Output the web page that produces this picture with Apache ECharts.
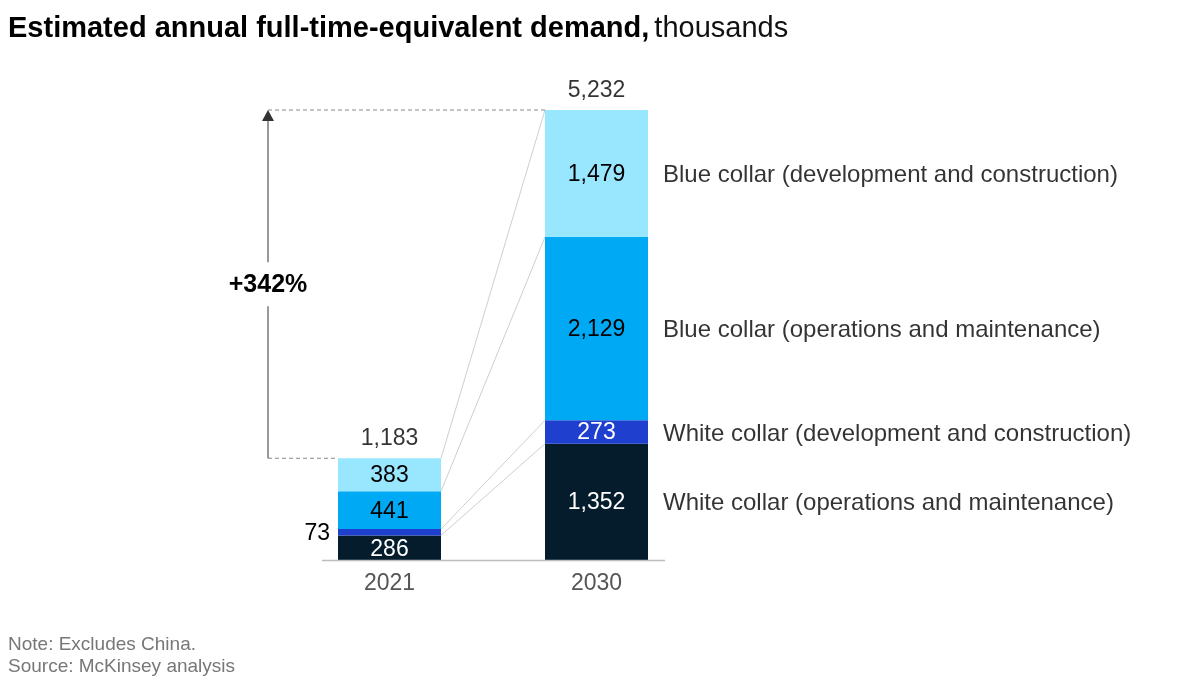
<!DOCTYPE html>
<html>
<head>
<meta charset="utf-8">
<script src="https://cdn.jsdelivr.net/npm/echarts@6/dist/echarts.min.js"></script>
<style>
html,body{margin:0;padding:0;background:#fff;}
#chart{width:1200px;height:679px;}
</style>
</head>
<body>
<div id="chart"></div>
<script>
// ---- data ----
var years = ['2021', '2030'];
var seriesNames = [
  'White collar (operations and maintenance)',
  'White collar (development and construction)',
  'Blue collar (operations and maintenance)',
  'Blue collar (development and construction)'
];
var whiteOM = [286, 1352];
var whiteDC = [73, 273];
var blueOM = [441, 2129];
var blueDC = [383, 1479];
var totals = [1183, 5232];

var colors = ['#051C2C', '#1F3FCF', '#00A9F4', '#99E6FF'];
var labelColors = ['#ffffff', '#ffffff', '#000000', '#000000'];
var FONT = '"Liberation Sans", Arial, sans-serif';
var BAR_W = 103;

var stacks = [whiteOM, whiteDC, blueOM, blueDC];

function fmt(v) { return Number(v).toLocaleString('en-US'); }
function cum(idx, upto) { var s = 0; for (var k = 0; k <= upto; k++) s += stacks[k][idx]; return s; }

var barSeries = stacks.map(function (arr, si) {
  return {
    name: seriesNames[si],
    type: 'bar',
    stack: 'total',
    barWidth: BAR_W,
    itemStyle: { color: colors[si] },
    label: {
      show: true,
      position: 'inside',
      fontFamily: FONT,
      fontSize: 23,
      color: labelColors[si],
      offset: [0, 1],
      formatter: function (p) { return fmt(p.value); }
    },
    data: arr.map(function (v, i) {
      var d = { value: v };
      if (si === 1 && i === 0) {
        d.label = { position: 'left', color: '#000', distance: 8, offset: [0, 1] };
      }
      if (si === 0 && i === 0) {
        d.label = { offset: [0, 2] };
      }
      return d;
    }),
    z: 3
  };
});

var totalSeries = {
  type: 'scatter',
  symbolSize: 0,
  silent: true,
  label: {
    show: true,
    position: 'top',
    distance: 8,
    fontFamily: FONT,
    fontSize: 23,
    color: '#000',
    formatter: function (p) { return fmt(p.value[1]); }
  },
  data: totals.map(function (t, i) { return [i, t]; }),
  z: 5
};

var sideSeries = {
  type: 'scatter',
  symbolSize: 0,
  silent: true,
  label: {
    show: true,
    position: 'right',
    distance: BAR_W / 2 + 15,
    offset: [0, 2],
    fontFamily: FONT,
    fontSize: 24,
    color: '#000',
    formatter: function (p) { return seriesNames[p.dataIndex]; }
  },
  data: stacks.map(function (arr, si) {
    return [1, cum(1, si) - arr[1] / 2];
  }),
  z: 5
};

var connectorData = [0, 1, 2, 3].map(function (si) { return [cum(0, si), cum(1, si)]; });
var connectorSeries = {
  type: 'custom',
  silent: true,
  renderItem: function (params, api) {
    var a = api.coord([0, api.value(0)]);
    var b = api.coord([1, api.value(1)]);
    return {
      type: 'line',
      shape: { x1: a[0] + BAR_W / 2, y1: a[1], x2: b[0] - BAR_W / 2, y2: b[1] },
      style: { stroke: '#cfcfcf', lineWidth: 1 }
    };
  },
  encode: { x: -1, y: [0, 1] },
  data: connectorData,
  z: 1
};

var growthPct = Math.round((totals[1] / totals[0] - 1) * 100);
var annotSeries = {
  type: 'custom',
  silent: true,
  renderItem: function (params, api) {
    var p0 = api.coord([0, totals[0]]);
    var p1 = api.coord([1, totals[1]]);
    var base0 = api.coord([0, 0]);
    var base1 = api.coord([1, 0]);
    var ax = p0[0] - BAR_W / 2 - 70;
    var midY = (p0[1] + p1[1]) / 2;
    var gap = 22;
    var gray = '#555555';
    return {
      type: 'group',
      children: [
        { type: 'line', shape: { x1: ax, y1: p1[1], x2: p1[0] - BAR_W / 2, y2: p1[1] },
          style: { stroke: '#888', lineWidth: 1, lineDash: [4, 3] } },
        { type: 'line', shape: { x1: ax, y1: p0[1], x2: p0[0] - BAR_W / 2, y2: p0[1] },
          style: { stroke: '#888', lineWidth: 1, lineDash: [4, 3] } },
        { type: 'line', shape: { x1: ax, y1: p0[1], x2: ax, y2: midY + gap },
          style: { stroke: gray, lineWidth: 1.2 } },
        { type: 'line', shape: { x1: ax, y1: midY - gap, x2: ax, y2: p1[1] + 8 },
          style: { stroke: gray, lineWidth: 1.2 } },
        { type: 'polygon', shape: { points: [[ax, p1[1]], [ax - 6, p1[1] + 11], [ax + 6, p1[1] + 11]] },
          style: { fill: '#333' } },
        { type: 'text', x: ax, y: midY + 1,
          style: { text: '+' + growthPct + '%', fontFamily: FONT, fontWeight: 'bold', fontSize: 25,
                   fill: '#000', align: 'center', verticalAlign: 'middle' } },
        { type: 'line', shape: { x1: base0[0] - BAR_W / 2 - 16, y1: base0[1] + 0.5, x2: base1[0] + BAR_W / 2 + 17, y2: base1[1] + 0.5 },
          style: { stroke: '#bdbdbd', lineWidth: 1.5 } }
      ]
    };
  },
  encode: { x: -1, y: -1 },
  data: [[0, 0]],
  z: 6
};

var chart = echarts.init(document.getElementById('chart'), null, { renderer: 'canvas' });
chart.setOption({
  backgroundColor: '#ffffff',
  animation: false,
  title: [
    {
      left: 8, top: 14, padding: 0,
      text: '{b|Estimated annual full-time-equivalent demand,} {r|thousands}',
      textStyle: {
        rich: {
          b: { fontFamily: FONT, fontWeight: 'bold', fontSize: 29, color: '#000' },
          r: { fontFamily: FONT, fontWeight: 'normal', fontSize: 29, color: '#111' }
        }
      }
    },
    {
      left: 8, top: 634, padding: 0,
      text: 'Note: Excludes China.\nSource: McKinsey analysis',
      textStyle: { fontFamily: FONT, fontWeight: 'normal', fontSize: 19, lineHeight: 22, color: '#777' }
    }
  ],
  grid: { left: 286, width: 414, top: 110, bottom: 119, containLabel: false },
  xAxis: {
    type: 'category',
    data: years,
    axisLine: { show: false },
    axisTick: { show: false },
    axisLabel: { fontFamily: FONT, fontSize: 23, color: '#555', margin: 12 }
  },
  yAxis: {
    type: 'value',
    min: 0,
    max: totals[1],
    show: false,
    splitLine: { show: false }
  },
  series: barSeries.concat([totalSeries, sideSeries, connectorSeries, annotSeries])
});
</script>
</body>
</html>
